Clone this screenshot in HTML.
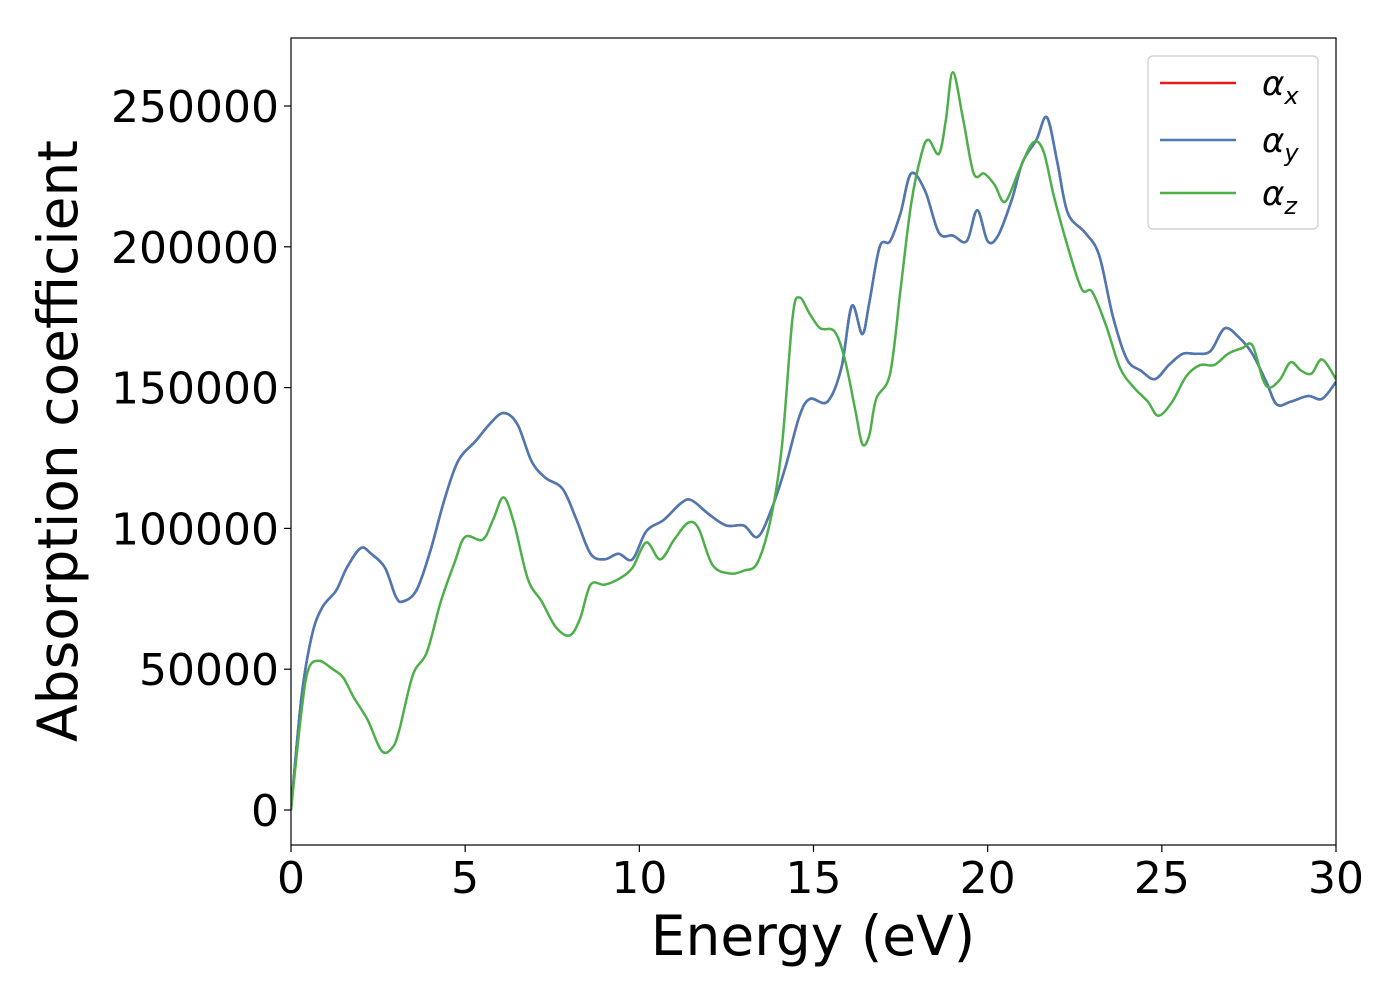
<!DOCTYPE html>
<html><head><meta charset="utf-8"><style>
html,body{margin:0;padding:0;background:#fff;}
svg{display:block;font-family:"DejaVu Sans","Liberation Sans",sans-serif;}
</style></head><body>
<svg id="chart" width="1400" height="1000"></svg>
<script>
const xTicks=[0,5,10,15,20,25,30];
const yTicks=[0,50000,100000,150000,200000,250000];
const energyAlpha=[0,0.3,0.6,0.9,1.3,1.6,2.0,2.3,2.7,3.0,3.2,3.6,4.0,4.4,4.8,5.3,5.7,6.1,6.5,6.9,7.3,7.8,8.2,8.6,9.0,9.4,9.8,10.2,10.7,11.2,11.5,12.0,12.5,13.0,13.4,13.8,14.2,14.6,14.9,15.4,15.8,16.1,16.4,16.6,16.9,17.2,17.5,17.8,18.2,18.6,19.0,19.4,19.7,20.0,20.3,20.7,21.0,21.4,21.7,22.0,22.3,22.8,23.2,23.6,24.0,24.4,24.8,25.2,25.6,26.0,26.4,26.8,27.2,27.6,28.0,28.3,28.7,29.2,29.6,30];
const alphaXY=[0,40000,62000,72000,78000,86000,93000,91000,86000,76000,74000,78000,92000,110000,124000,131000,137000,141000,137000,124000,118000,114000,103000,91000,89000,91000,89000,99000,103000,109000,110000,105000,101000,101000,97000,107000,122000,140000,146000,145000,157000,179000,169000,180000,200000,202000,212000,226000,220000,205000,204000,202000,213000,202000,204000,217000,230000,238000,246000,230000,212000,205000,197000,175000,160000,156000,153000,158000,162000,162000,163000,171000,168000,162000,152000,144000,145000,147000,146000,152000];
const energyZ=[0,0.3,0.5,0.8,1.2,1.5,1.8,2.2,2.6,2.9,3.1,3.5,3.9,4.3,4.7,5.0,5.5,5.8,6.1,6.4,6.8,7.2,7.6,8.0,8.3,8.6,9.0,9.4,9.8,10.2,10.6,11.0,11.4,11.7,12.1,12.6,13.0,13.4,13.8,14.1,14.4,14.6,14.9,15.2,15.6,15.9,16.2,16.4,16.6,16.8,17.2,17.5,17.8,18.1,18.3,18.6,18.8,19.0,19.3,19.6,19.9,20.2,20.5,20.9,21.3,21.6,21.9,22.3,22.7,23.0,23.4,23.8,24.2,24.6,24.9,25.3,25.7,26.1,26.5,26.9,27.3,27.6,27.9,28.1,28.4,28.7,29.0,29.3,29.6,30];
const alphaZ=[0,35000,50000,53000,50000,47000,40000,32000,21000,22000,28000,48000,56000,74000,88000,97000,96000,103000,111000,102000,82000,74000,65000,62000,68000,80000,80000,82000,86000,95000,89000,96000,102000,100000,87000,84000,85000,88000,105000,130000,175000,182000,176000,171000,170000,160000,142000,130000,133000,146000,155000,185000,215000,233000,238000,233000,245000,262000,245000,226000,226000,222000,216000,227000,237000,234000,218000,200000,185000,184000,172000,157000,150000,145000,140000,145000,154000,158000,158000,162000,164000,165000,153000,150000,153000,159000,156000,155000,160000,153000];

const NS="http://www.w3.org/2000/svg";
const svg=document.getElementById('chart');
const L=291,R=1336,T=38,B=845;
const X=v=>L+(v-0)/(30-0)*(R-L);
const Y=v=>810-v/250000*(810-106);
function el(t,a,p){const e=document.createElementNS(NS,t);for(const k in a)e.setAttribute(k,a[k]);(p||svg).appendChild(e);return e;}

const clip=el('clipPath',{id:'clip'});el('rect',{x:L,y:T,width:R-L,height:B-T},clip);
function smoothPath(xs,ys){
  const p=xs.map((x,i)=>[X(x),Y(ys[i])]);
  let d='M'+p[0][0]+','+p[0][1];
  for(let i=0;i<p.length-1;i++){
    const p0=p[i-1]||p[i],p1=p[i],p2=p[i+1],p3=p[i+2]||p2;
    const c1=[p1[0]+(p2[0]-p0[0])/6,p1[1]+(p2[1]-p0[1])/6];
    const c2=[p2[0]-(p3[0]-p1[0])/6,p2[1]-(p3[1]-p1[1])/6];
    d+=' C'+c1[0]+','+c1[1]+' '+c2[0]+','+c2[1]+' '+p2[0]+','+p2[1];
  }
  return d;
}
const g=el('g',{'clip-path':'url(#clip)'});
let s=el('path',{d:smoothPath(energyAlpha,alphaXY),fill:'none',stroke:'#e41a1c','stroke-width':2.5},g);

s=el('path',{d:smoothPath(energyAlpha,alphaXY),fill:'none',stroke:'#4a7ab5','stroke-width':2.5},g);

s=el('path',{d:smoothPath(energyZ,alphaZ),fill:'none',stroke:'#4daf4a','stroke-width':2.5},g);


const frame=el('rect',{x:L,y:T,width:R-L,height:B-T,fill:'none',stroke:'#000','stroke-width':1.2});


xTicks.forEach(v=>{
  el('line',{x1:X(v),x2:X(v),y1:B,y2:B+7,stroke:'#000','stroke-width':1.2});
  const t=el('text',{x:X(v),y:B+48,'text-anchor':'middle','font-size':44});
  t.textContent=v;
  
});
yTicks.forEach(v=>{
  el('line',{x1:L-7,x2:L,y1:Y(v),y2:Y(v),stroke:'#000','stroke-width':1.2});
  const t=el('text',{x:L-12,y:Y(v)+16,'text-anchor':'end','font-size':44});
  t.textContent=v;
  
});
let t=el('text',{x:813,y:955,'text-anchor':'middle','font-size':55});
t.textContent='Energy (eV)';
t=el('text',{x:0,y:0,'text-anchor':'middle','font-size':55,transform:'translate(77,441) rotate(-90)'});
t.textContent='Absorption coefficient';

const lg=el('g',{});
el('rect',{x:1148,y:56,width:170,height:173,rx:5,fill:'#fff','fill-opacity':0.8,stroke:'#ccc','stroke-width':1.2},lg);
const leg=[['#e41a1c','x',83],['#4a7ab5','y',140],['#4daf4a','z',193]];
leg.forEach(([c,sub,y])=>{
  el('line',{x1:1160,x2:1236,y1:y,y2:y,stroke:c,'stroke-width':2.5},lg);
  const tt=el('text',{x:1262,y:y+12,'font-size':34,'font-style':'italic'},lg);
  
  tt.innerHTML='α<tspan font-size="24" dy="9">'+sub+'</tspan>';
});
</script>
</body></html>
